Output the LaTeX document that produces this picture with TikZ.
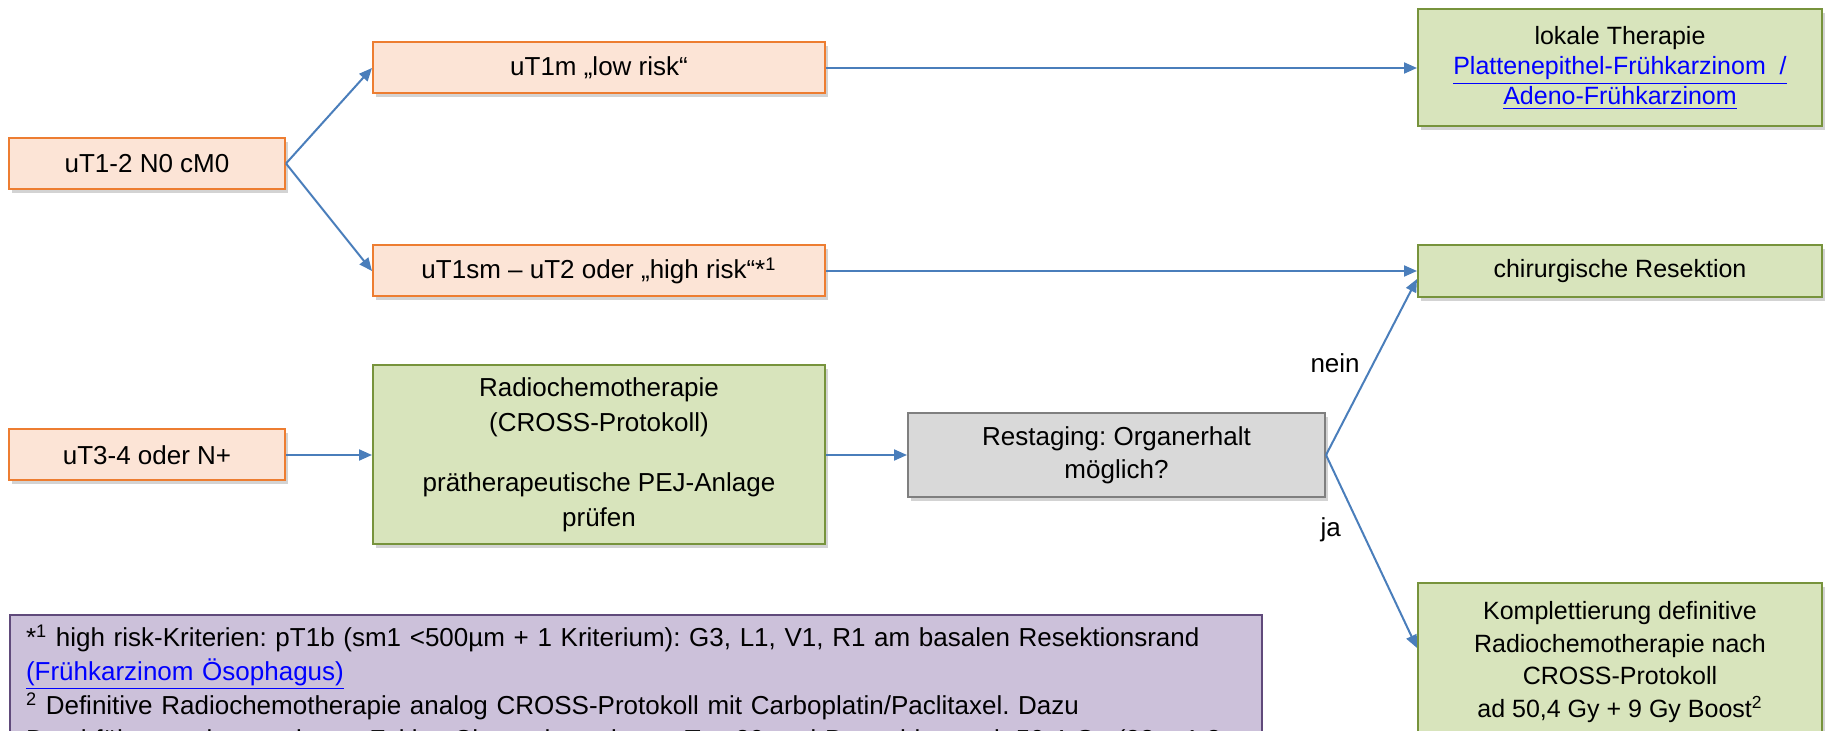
\documentclass[tikz,border=0pt]{standalone}
\usepackage{fontspec}
\setmainfont{Liberation Sans}
\usepackage{tikz}
\usetikzlibrary{arrows.meta,positioning,shadows}

\definecolor{orangefill}{RGB}{252,228,214}
\definecolor{orangeline}{RGB}{237,125,49}
\definecolor{greenfill}{RGB}{216,228,188}
\definecolor{greenline}{RGB}{119,147,60}
\definecolor{grayfill}{RGB}{217,217,217}
\definecolor{grayline}{RGB}{127,127,127}
\definecolor{notefill}{RGB}{204,193,218}
\definecolor{noteline}{RGB}{96,74,123}
\definecolor{flowblue}{RGB}{74,126,187}
\definecolor{linkblue}{RGB}{0,0,255}

\newcommand{\weblink}[1]{\textcolor{linkblue}{\underline{#1}}}
\frenchspacing

\begin{document}
\begin{tikzpicture}[->,>={Triangle[length=6.5pt,width=5.5pt]},font=\fontsize{13}{16.5}\selectfont,
  box/.style={rectangle,draw,line width=1pt,align=center,inner sep=2pt,on grid,
    drop shadow={shadow xshift=1.5pt,shadow yshift=-1.8pt,opacity=.35}},
  stage/.style={box,fill=orangefill,draw=orangeline,minimum height=25.5pt},
  therapy/.style={box,fill=greenfill,draw=greenline,minimum width=202pt},
  decision/.style={box,fill=grayfill,draw=grayline},
  note/.style={rectangle,draw=noteline,fill=notefill,line width=1pt,anchor=north west,
    align=left,text width=610pt,inner xsep=8pt,inner ysep=5pt,
    font=\fontsize{13}{17}\selectfont},
  flow/.style={every edge/.style={draw=flowblue,line width=1pt}}]

        \useasboundingbox (0,0) rectangle (918.5pt,-365.5pt);

        \node[stage,minimum width=138pt] (early) at (73.5pt,-81.75pt) {uT1-2 N0 cM0};
        \node[stage,minimum width=226pt] (lowrisk) [above right=47.75pt and 226pt of early] {uT1m „low risk“};
        \node[stage,minimum width=226pt] (highrisk) [below right=53.75pt and 226pt of early] {uT1sm – uT2 oder „high risk“*\textsuperscript{1}};
        \node[stage,minimum width=138pt] (advanced) [below=145.75pt of early] {uT3-4 oder N+};
        \node[therapy,minimum width=226pt,minimum height=89.5pt,font=\fontsize{13}{17.5}\selectfont] (rct) [right=226pt of advanced]
            {Radiochemotherapie\\(CROSS-Protokoll)\\[12.5pt]prätherapeutische PEJ-Anlage\\prüfen};
        \node[decision,minimum width=208.5pt,minimum height=42pt] (restage) [right=258.75pt of rct] {Restaging: Organerhalt\\möglich?};
        \node[therapy,minimum height=58.5pt,font=\fontsize{12.5}{15}\selectfont] (local) [right=510.5pt of lowrisk]
            {lokale Therapie\\\weblink{Plattenepithel-Frühkarzinom~~/}\\\weblink{Adeno-Frühkarzinom}};
        \node[therapy,minimum height=26pt,font=\fontsize{12.5}{15}\selectfont] (surgery) [right=510.5pt of highrisk] {chirurgische Resektion};
        \node[therapy,minimum height=79pt,font=\fontsize{12.5}{16.4}\selectfont] (definitive) [below=195.5pt of surgery]
            {Komplettierung definitive\\Radiochemotherapie nach\\CROSS-Protokoll\\ad 50,4 Gy + 9 Gy Boost\textsuperscript{2}};
        \node[note] (footnote) at (4.5pt,-307pt)
            {*\textsuperscript{1} high risk-Kriterien: pT1b (sm1 <500µm + 1 Kriterium): G3, L1, V1, R1 am basalen Resektionsrand\\
             \weblink{(Frühkarzinom Ösophagus)}\\
             \textsuperscript{2} Definitive Radiochemotherapie analog CROSS-Protokoll mit Carboplatin/Paclitaxel. Dazu\\
             Durchführung eines weiteren Zyklus Chemotherapie am Tag 29 und Bestrahlung mit 50,4 Gy (28 x 1,8 Gy)};

        \path[flow]
        (early.east) edge (lowrisk.west)
                     edge (highrisk.west)
        (lowrisk) edge (local)
        (highrisk) edge (surgery)
        (advanced) edge (rct)
        (rct) edge (restage)
        (restage.east) edge node[left=3pt,pos=.52] {nein} ([yshift=-4pt]surgery.west)
                       edge node[left=6.5pt,pos=.39] {ja} ([yshift=7pt]definitive.west);
\end{tikzpicture}
\end{document}
